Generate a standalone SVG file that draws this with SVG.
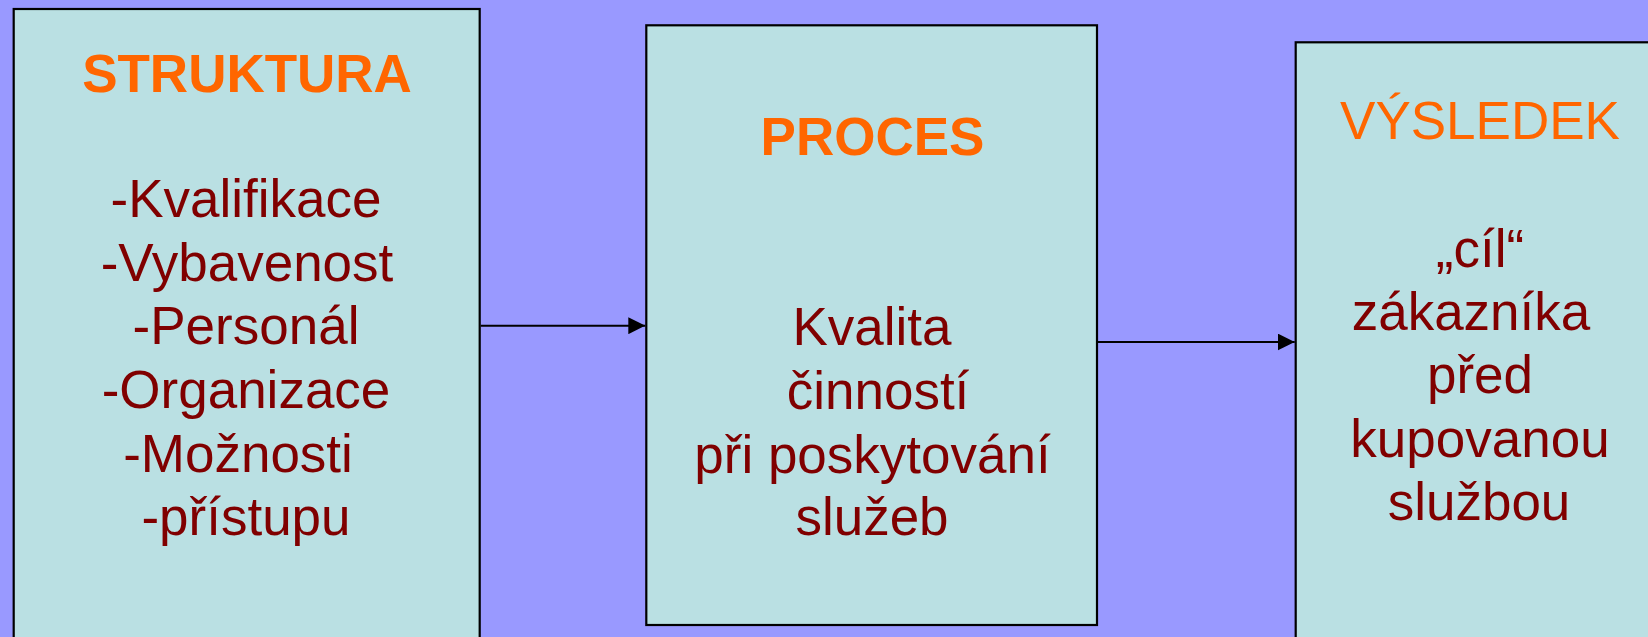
<svg xmlns="http://www.w3.org/2000/svg" width="1648" height="637" viewBox="0 0 1648 637">
  <style>
    .box { fill: #BAE0E3; stroke: #000000; stroke-width: 2.2; }
    .title { font-family: "Liberation Sans", Arial, sans-serif; font-size: 53px; fill: #FF6600; text-anchor: middle; }
    .bold { font-weight: bold; }
    .body { font-family: "Liberation Sans", Arial, sans-serif; font-size: 53px; fill: #800000; text-anchor: middle; }
    .link { stroke: #000000; stroke-width: 2; fill: none; marker-end: url(#arrow); }
  </style>
  <defs>
    <marker id="arrow" viewBox="0 0 17 17" refX="17" refY="8.5" markerWidth="17" markerHeight="17" markerUnits="userSpaceOnUse" orient="auto">
      <path d="M0,0 L17,8.5 L0,17 Z" fill="#000000"/>
    </marker>
  </defs>

  <rect x="0" y="0" width="1648" height="637" fill="#9999FF"/>

  <g id="struktura">
    <rect class="box" x="13.7" y="9" width="466" height="700"/>
    <text class="title bold" x="247" y="92">STRUKTURA</text>
    <text class="body" x="246" y="217">-Kvalifikace</text>
    <text class="body" x="247" y="281">-Vybavenost</text>
    <text class="body" x="246" y="344">-Personál</text>
    <text class="body" x="246" y="408">-Organizace</text>
    <text class="body" x="238" y="472">-Možnosti</text>
    <text class="body" x="246" y="535">-přístupu</text>
  </g>

  <g id="proces">
    <rect class="box" x="646.3" y="25.3" width="450.7" height="599.7"/>
    <text class="title bold" x="872.5" y="155">PROCES</text>
    <text class="body" x="872" y="345">Kvalita</text>
    <text class="body" x="878" y="409">činností</text>
    <text class="body" x="872.5" y="473">při poskytování</text>
    <text class="body" x="872" y="535">služeb</text>
  </g>

  <g id="vysledek">
    <rect class="box" x="1295.7" y="42.3" width="400" height="700"/>
    <text class="title" x="1480" y="139">VÝSLEDEK</text>
    <text class="body" x="1480" y="267">„cíl“</text>
    <text class="body" x="1471" y="330">zákazníka</text>
    <text class="body" x="1480" y="393">před</text>
    <text class="body" x="1480" y="457">kupovanou</text>
    <text class="body" x="1479" y="520">službou</text>
  </g>

  <g id="connectors">
    <line class="link" x1="480.7" y1="325.7" x2="645.3" y2="325.7"/>
    <line class="link" x1="1098" y1="342" x2="1294.7" y2="342"/>
  </g>
</svg>
